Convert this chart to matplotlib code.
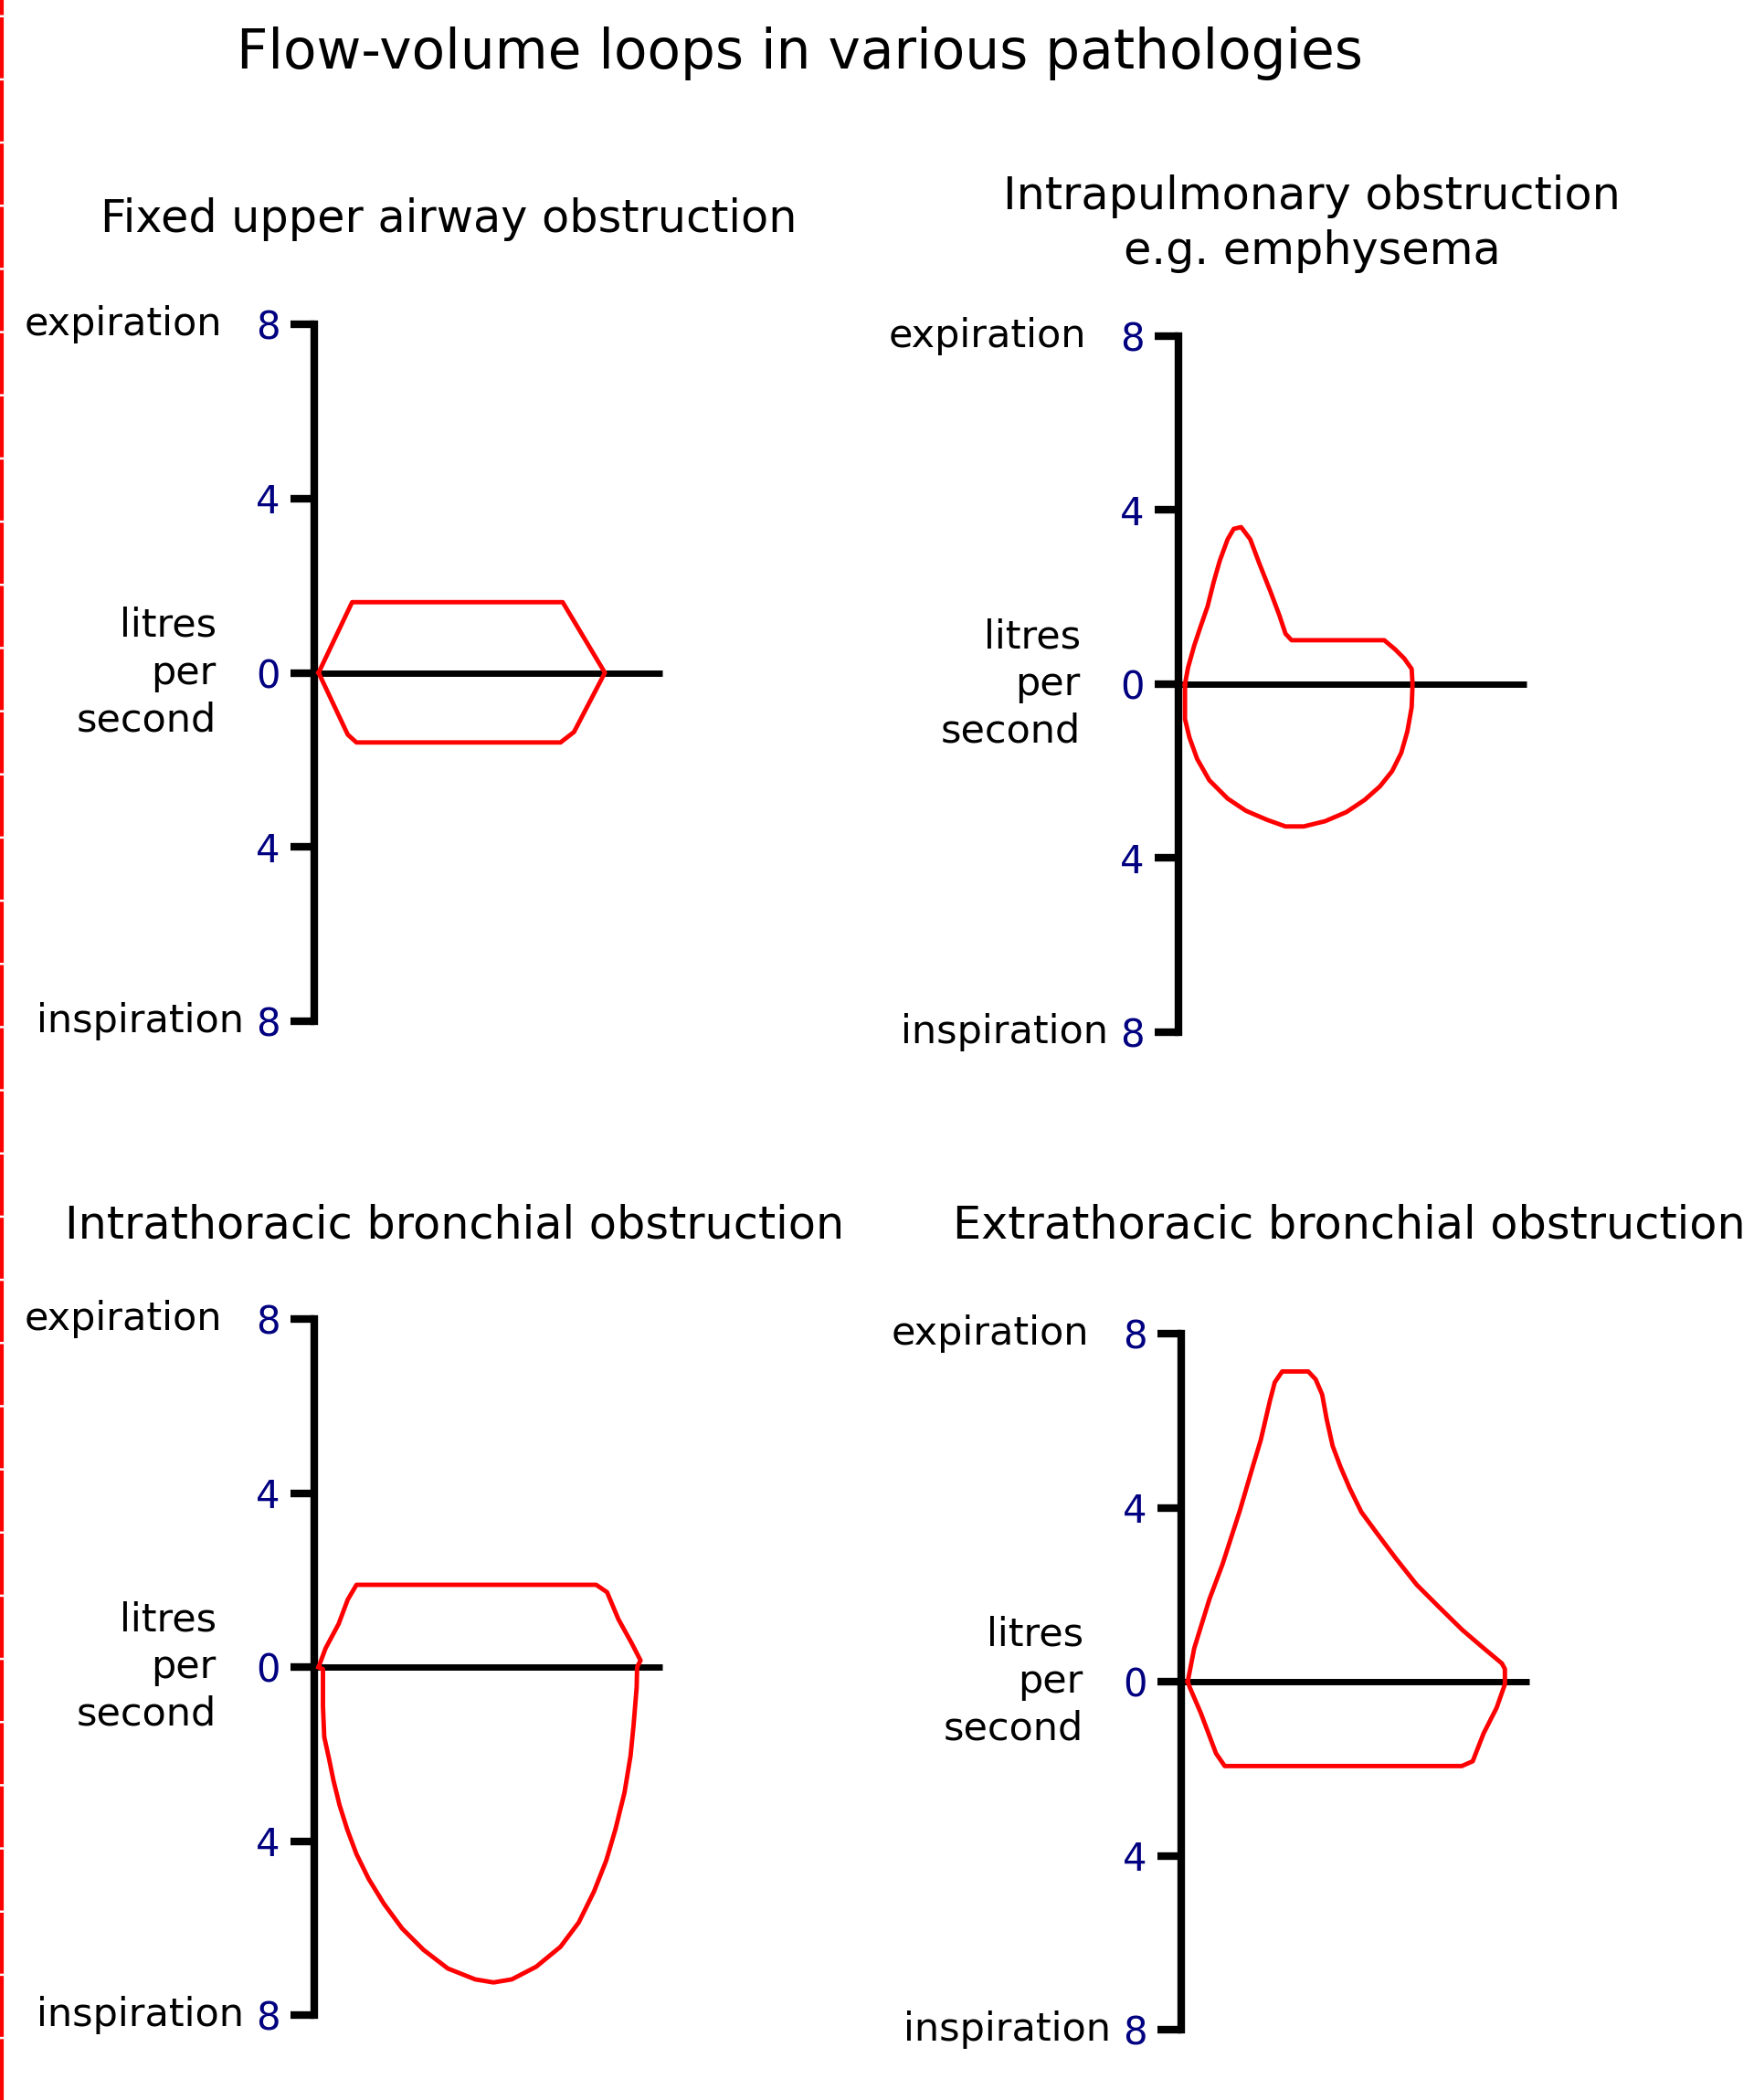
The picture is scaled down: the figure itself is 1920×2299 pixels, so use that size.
import matplotlib
matplotlib.use("Agg")
import matplotlib.pyplot as plt
from matplotlib.lines import Line2D

plt.rcParams['font.family'] = ['DejaVu Sans']

W, H = 1920, 2299

# tick values and labels on the flow axis
tick_vals = [8, 4, 0, -4, -8]
tick_labels = ['8', '4', '0', '4', '8']

# fixed upper airway obstruction (volume, flow)
fixed_vol = [0.1, 0.87, 5.71, 6.68, 5.97, 5.66, 0.97, 0.77, 0.1]
fixed_flow = [0.0, 1.62, 1.62, 0.0, -1.36, -1.6, -1.6, -1.42, 0.0]

# intrapulmonary obstruction, e.g. emphysema
emph_vol = [0.15, 0.22, 0.36, 0.5, 0.67, 0.81, 0.95, 1.13, 1.27, 1.44, 1.65, 1.86,
            2.11, 2.32, 2.46, 2.6, 4.73, 4.98, 5.19, 5.36, 5.38,
            5.36, 5.26, 5.12, 4.91, 4.63, 4.28, 3.86, 3.37, 2.88, 2.46, 2.04,
            1.55, 1.13, 0.71, 0.43, 0.25, 0.15, 0.15]
emph_flow = [0.0, 0.38, 0.88, 1.3, 1.79, 2.35, 2.84, 3.33, 3.57, 3.61, 3.33, 2.77,
             2.14, 1.58, 1.16, 1.01, 1.01, 0.8, 0.59, 0.35, 0.0,
             -0.53, -1.09, -1.58, -2.0, -2.35, -2.66, -2.94, -3.15, -3.27, -3.27, -3.12,
             -2.91, -2.63, -2.21, -1.72, -1.22, -0.8, 0.0]

# intrathoracic bronchial obstruction
intra_vol = [0.1, 0.26, 0.56, 0.77, 0.97, 6.48, 6.73, 6.99, 7.3, 7.5, 7.42,
             7.41, 7.34, 7.27, 7.13, 6.92, 6.71, 6.43, 6.08, 5.66, 5.1, 4.54, 4.12,
             3.7, 3.07, 2.51, 2.02, 1.6, 1.25, 0.97, 0.76, 0.58, 0.44, 0.34, 0.23,
             0.2, 0.2, 0.1]
intra_flow = [0.0, 0.43, 0.99, 1.55, 1.89, 1.89, 1.72, 1.1, 0.54, 0.15, 0.0,
              -0.47, -1.33, -2.04, -2.89, -3.74, -4.45, -5.16, -5.87, -6.43, -6.89, -7.18, -7.25,
              -7.18, -6.93, -6.5, -6.01, -5.44, -4.87, -4.3, -3.74, -3.17, -2.6, -2.11, -1.61,
              -0.9, -0.05, 0.0]

# extrathoracic bronchial obstruction
extra_vol = [0.15, 0.3, 0.65, 0.95, 1.35, 1.65, 1.83, 2.04, 2.15, 2.32, 2.92, 3.09,
             3.24, 3.34, 3.48, 3.66, 3.87, 4.14, 4.5, 4.92, 5.41, 5.9, 6.46, 6.95,
             7.37, 7.44, 7.44, 7.25, 6.95, 6.7, 6.45, 1.0, 0.8, 0.45, 0.2, 0.15]
extra_flow = [0.0, 0.77, 1.9, 2.7, 3.94, 4.96, 5.56, 6.46, 6.88, 7.13, 7.13, 6.95,
              6.6, 6.05, 5.42, 4.94, 4.45, 3.9, 3.41, 2.85, 2.23, 1.74, 1.19, 0.77,
              0.42, 0.29, -0.06, -0.6, -1.19, -1.83, -1.94, -1.94, -1.65, -0.72, -0.14, 0.0]

panels = [
    # left, right, top, bottom (pixels), volume, flow
    (344, 725, 355, 1118, fixed_vol, fixed_flow),
    (1290, 1671, 368, 1130, emph_vol, emph_flow),
    (344, 725, 1444, 2206, intra_vol, intra_flow),
    (1293, 1674, 1460, 2222, extra_vol, extra_flow),
]

fig = plt.figure(figsize=(W / 100, H / 100), dpi=100)
fig.patch.set_facecolor('white')

for left, right, top, bottom, vol, flow in panels:
    ax = fig.add_axes([left / W, 1 - bottom / H, (right - left) / W, (bottom - top) / H])
    ax.set_xlim(0, 8)
    ax.set_ylim(-8, 8)
    ax.patch.set_alpha(0)
    for s in ['top', 'right', 'bottom']:
        ax.spines[s].set_visible(False)
    ax.spines['left'].set_linewidth(6)
    ax.spines['left'].set_bounds(-8, 8)
    ax.spines['left'].set_capstyle('projecting')
    ax.set_xticks([])
    ax.set_yticks(tick_vals)
    ax.set_yticklabels(tick_labels)
    ax.tick_params(axis='y', length=19, width=6, pad=8, labelsize=30, labelcolor='#000080')
    ax.plot([0, 8], [0, 0], color='black', lw=5, solid_capstyle='butt', clip_on=False)
    ax.plot(vol, flow, color='red', lw=3.5, clip_on=False, zorder=3)

    ax.text(-2.12, 8, 'expiration', ha='right', va='center', fontsize=31, clip_on=False)
    ax.text(-1.62, -8, 'inspiration', ha='right', va='center', fontsize=31, clip_on=False)
    ax.text(-2.25, 0.0, 'litres\nper\nsecond', ha='right', va='center', fontsize=31,
            linespacing=1.3, multialignment='right', clip_on=False)

fig.text(875 / W, 1 - 58 / H, 'Flow-volume loops in various pathologies',
         ha='center', va='center', fontsize=43)
fig.text(491 / W, 1 - 240 / H, 'Fixed upper airway obstruction',
         ha='center', va='center', fontsize=35.5)
fig.text(1436 / W, 1 - 245 / H, 'Intrapulmonary obstruction\ne.g. emphysema',
         ha='center', va='center', fontsize=35.5, linespacing=1.3)
fig.text(498 / W, 1 - 1342 / H, 'Intrathoracic bronchial obstruction',
         ha='center', va='center', fontsize=35.5)
fig.text(1043 / W, 1 - 1342 / H, 'Extrathoracic bronchial obstruction',
         ha='left', va='center', fontsize=35.5)

# red dashed margin line on the left edge
fig.add_artist(Line2D([2 / W, 2 / W], [0, 1], color='red', lw=3,
                      linestyle=(0, (16, 0.6)), transform=fig.transFigure))

fig.savefig('out.png', dpi=100)
